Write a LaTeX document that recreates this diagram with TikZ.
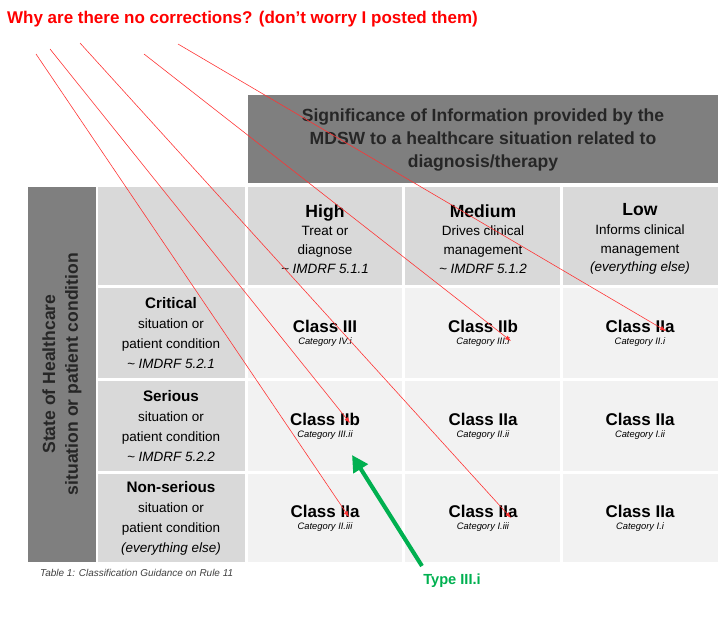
\documentclass[tikz,border=0pt]{standalone}
\usepackage{fontspec}
\setmainfont{Liberation Sans}
\usetikzlibrary{arrows.meta}
\definecolor{darkg}{HTML}{7F7F7F}
\definecolor{midg}{HTML}{D9D9D9}
\definecolor{lightg}{HTML}{F2F2F2}
\definecolor{grn}{HTML}{00B050}
\begin{document}
\begin{tikzpicture}[x=0.03cm, y=-0.03cm,
    cell/.style={draw=none, inner sep=0pt, align=center, text width=145\pgflinewidth},
    hd/.style={fill=midg},
    bd/.style={fill=lightg},
    redl/.style={red!80, line width=0.5pt, -{Latex[length=5pt]}}]
    \useasboundingbox (0,0) rectangle (720,635);

    % Title
    \node[anchor=west, text=red, font=\fontsize{14.5}{17}\selectfont\bfseries] (title) at (3,19) {Why are there no corrections? (don't worry I posted them)};

    % Header boxes
    \fill[darkg] (248,95) rectangle (718,183);
    \node[align=center, font=\fontsize{15}{19.5}\selectfont\bfseries, text=black!85] (sig) at (483,140) {Significance of Information provided by the\\MDSW to a healthcare situation related to\\diagnosis/therapy};
    \fill[darkg] (28,187) rectangle (96,562);
    \node[rotate=90, align=center, font=\fontsize{15}{19.5}\selectfont\bfseries, text=black!85] (state) at (62,374) {State of Healthcare\\situation or patient condition};

    % Grid cells
    \fill[midg] (98,187) rectangle (245,285);
    \fill[midg] (248,187) rectangle (402,285);
    \fill[midg] (405,187) rectangle (560,285);
    \fill[midg] (563,187) rectangle (718,285);
    \foreach \ya/\yb in {288/378, 381/471, 474/562} {
        \fill[midg] (98,\ya) rectangle (245,\yb);
        \fill[lightg] (248,\ya) rectangle (402,\yb);
        \fill[lightg] (405,\ya) rectangle (560,\yb);
        \fill[lightg] (563,\ya) rectangle (718,\yb);
    }

    % Column headings
    \node[align=center, font=\fontsize{11.5}{16}\selectfont] (high) at (325,239) {{\fontsize{15}{18}\selectfont\bfseries High}\\Treat or\\diagnose\\\textit{\textasciitilde\ IMDRF 5.1.1}};
    \node[align=center, font=\fontsize{11.5}{16}\selectfont] (med) at (483,239) {{\fontsize{15}{18}\selectfont\bfseries Medium}\\Drives clinical\\management\\\textit{\textasciitilde\ IMDRF 5.1.2}};
    \node[align=center, font=\fontsize{11.5}{16}\selectfont] (low) at (640,239) {{\fontsize{15}{18}\selectfont\bfseries Low}\\Informs clinical\\management\\\textit{(everything else)}};

    % Row headings
    \node[align=center, font=\fontsize{11.5}{17}\selectfont] (crit) at (171,333) {{\fontsize{13}{17}\selectfont\bfseries Critical}\\situation or\\patient condition\\\textit{\textasciitilde\ IMDRF 5.2.1}};
    \node[align=center, font=\fontsize{11.5}{17}\selectfont] (ser) at (171,426) {{\fontsize{13}{17}\selectfont\bfseries Serious}\\situation or\\patient condition\\\textit{\textasciitilde\ IMDRF 5.2.2}};
    \node[align=center, font=\fontsize{11.5}{17}\selectfont] (nons) at (171,518) {{\fontsize{13}{17}\selectfont\bfseries Non-serious}\\situation or\\patient condition\\\textit{(everything else)}};

    % Classes
    \foreach \n/\x/\y/\c/\k in {c11/325/333/III/IV.i, c12/483/333/IIb/III.i, c13/640/333/IIa/II.i,
                                 c21/325/426/IIb/III.ii, c22/483/426/IIa/II.ii, c23/640/426/IIa/I.ii,
                                 c31/325/518/IIa/II.iii, c32/483/518/IIa/I.iii, c33/640/518/IIa/I.i} {
        \node[align=center, inner sep=1pt] (\n) at (\x,\y) {{\fontsize{14.5}{16}\selectfont\bfseries Class \c}\\[-2pt]{\fontsize{8}{10}\selectfont\itshape Category \k}};
    }

    % Caption
    \node[anchor=west, font=\fontsize{8.5}{10}\selectfont\itshape, text=black!75] (cap) at (36,573) {Table 1: Classification Guidance on Rule 11};

    % Red annotation lines
    \coordinate (s1) at (36,54);
    \coordinate (s2) at (50,49);
    \coordinate (s3) at (80,43);
    \coordinate (s4) at (144,54);
    \coordinate (s5) at (178,44);
    \coordinate (e1) at (349,517);
    \coordinate (e2) at (350,423);
    \coordinate (e3) at (511,518);
    \coordinate (e4) at (511,341);
    \coordinate (e5) at (666,331);
    \draw[redl] (s1) -- (e1);
    \draw[redl] (s2) -- (e2);
    \draw[redl] (s3) -- (e3);
    \draw[redl] (s4) -- (e4);
    \draw[redl] (s5) -- (e5);

    % Green note
    \node[text=grn, font=\fontsize{12.5}{15}\selectfont\bfseries] (type) at (452,581) {Type III.i};
    \coordinate (gtip) at (352,455);
    \draw[grn, line width=3.5pt, -{Triangle[length=14pt,width=14pt]}] (422,566) -- (gtip);
\end{tikzpicture}
\end{document}
